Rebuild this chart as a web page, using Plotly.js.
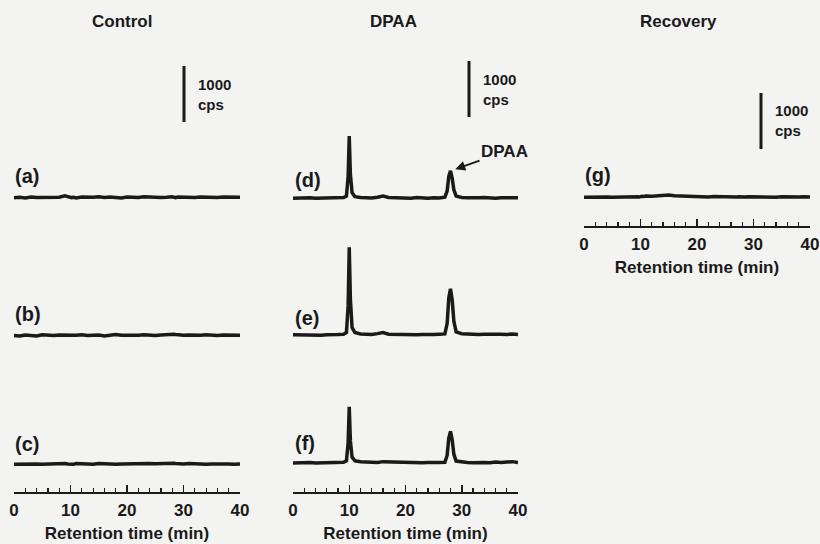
<!DOCTYPE html>
<html><head><meta charset="utf-8">
<script src="https://cdn.plot.ly/plotly-3.0.1.min.js"></script>
<style>html,body{margin:0;padding:0;background:#f3f3f1}</style>
</head><body><div id="chart" style="width:820px;height:544px"></div>
<script>
// ---- data (retention time in min, signal in cps) ----
const times = [0,1,2,3,4,5,6,7,8,9,9.5,9.8,10,10.2,10.5,11,12,13,14,15,16,17,18,19,20,21,22,23,24,25,26,27,27.4,27.7,28,28.3,28.6,29,30,31,32,33,34,35,36,37,38,39,40];
const controlA = [20,30,20,35,25,30,20,35,30,55,40,35,30,25,30,20,35,25,30,40,25,35,30,20,35,30,25,40,30,35,25,30,35,30,40,30,25,35,30,40,25,35,30,40,25,35,30,40,30];
const controlB = [25,20,35,30,20,40,30,25,35,30,30,25,35,30,25,30,40,25,30,35,20,30,45,30,25,35,30,40,30,25,35,40,45,55,60,50,45,40,30,35,25,30,40,30,25,35,30,40,30];
const controlC = [30,35,30,40,35,30,35,40,30,45,35,30,40,35,30,45,35,40,30,45,35,40,30,35,40,30,35,40,45,40,45,50,55,60,55,50,45,40,35,45,35,40,30,35,40,45,35,30,35];
const dpaaD = [30,35,25,40,30,35,30,40,35,45,70,420,1140,460,130,60,45,40,35,50,70,45,40,35,40,30,45,35,30,40,35,50,160,420,520,390,180,70,45,40,35,40,45,35,30,40,35,45,40];
const dpaaE = [40,35,30,40,35,30,40,35,45,50,80,560,1600,680,170,80,55,50,45,60,80,50,45,40,45,35,40,45,40,45,50,55,240,700,860,660,280,90,60,50,55,45,50,55,45,50,45,55,45];
const dpaaF = [35,40,30,45,35,40,45,35,40,50,75,400,1040,430,140,75,60,50,55,45,60,55,50,45,40,50,45,40,45,40,45,50,170,480,600,450,190,70,50,45,40,50,45,40,55,45,50,60,45];
const recoveryG = [30,35,30,40,35,30,35,40,35,45,40,35,45,50,45,55,50,60,65,70,60,55,45,40,35,40,35,45,40,35,40,35,40,35,45,40,35,40,35,30,40,35,30,40,35,30,35,40,35];
const panelLabels = ['(a)','(b)','(c)','(d)','(e)','(f)','(g)'];
const columnTitles = ['Control','DPAA','Recovery'];
const scaleBarCps = 1000;
const scaleBarText = ['1000','cps'];
const tickValues = [0,10,20,30,40];
const peakLabel = 'DPAA';
const peakTime = 28;
const axisTitle = 'Retention time (min)';

// ---- layout geometry (pixels) ----
const W = 820, H = 544, K = 0.056; // px per cps
const px = x => x / W, py = y => 1 - y / H;
const ink = '#1a1a1a';
const FONT = 'Liberation Sans, Arial, Helvetica, sans-serif';
const colX = [[14,240],[293,518],[584,810]];
const axisY = [492,492,226];
const series = [controlA, controlB, controlC, dpaaD, dpaaE, dpaaF, recoveryG];
const panelCol = [0,0,0,1,1,1,2];
const panelBase = [199,337,466,200,337,465,199];
const panelLabelPos = [[13,176],[13,314],[13,444],[293,180],[293,318],[293,443],[583,175]];
const yLo = -300, yHi = 2600;

const traces = [], layout = {
  width: W, height: H, margin: {l:0,r:0,t:0,b:0},
  paper_bgcolor: '#f3f3f1', plot_bgcolor: 'rgba(0,0,0,0)',
  showlegend: false, font: {family: FONT, color: ink},
  annotations: [], shapes: []
};

for (let c = 0; c < 3; c++) {
  const key = 'xaxis' + (c === 0 ? '' : c + 1);
  layout[key] = {
    domain: [px(colX[c][0]), px(colX[c][1])], range: [0, 40],
    anchor: 'free', position: py(axisY[c]),
    showline: true, linecolor: ink, linewidth: 1.5,
    showgrid: false, zeroline: false,
    tickmode: 'array', tickvals: tickValues, ticktext: tickValues.map(String),
    ticks: 'inside', ticklen: 7, tickwidth: 1.5, tickcolor: ink,
    minor: {dtick: 2, tick0: 0, ticks: 'inside', ticklen: 4, tickwidth: 1.2, tickcolor: ink, showgrid: false},
    tickfont: {family: FONT, size: 17, weight: 'bold', color: ink},
    ticklabelstandoff: 2,
    title: {text: axisTitle, font: {family: FONT, size: 17, weight: 'bold', color: ink}, standoff: 8},
    fixedrange: true
  };
}

series.forEach((vals, i) => {
  const c = panelCol[i];
  const xk = 'x' + (c === 0 ? '' : c + 1);
  const yk = 'y' + (i === 0 ? '' : i + 1);
  const yKey = 'yaxis' + (i === 0 ? '' : i + 1);
  const base = panelBase[i];
  layout[yKey] = {
    domain: [py(base - yLo * K), py(base - yHi * K)],
    range: [yLo, yHi], visible: false, fixedrange: true, anchor: xk
  };
  traces.push({
    x: times, y: vals, xaxis: xk, yaxis: yk, type: 'scatter', mode: 'lines',
    line: {color: ink, width: 3.5}, hoverinfo: 'skip'
  });
  layout.annotations.push({
    xref: 'paper', yref: 'paper', x: px(panelLabelPos[i][0]), y: py(panelLabelPos[i][1]),
    xanchor: 'left', yanchor: 'middle', showarrow: false, text: panelLabels[i],
    font: {family: FONT, size: 20, weight: 'bold', color: ink}
  });
});

// column titles
const titleX = [122, 393, 678];
columnTitles.forEach((t, c) => layout.annotations.push({
  xref: 'paper', yref: 'paper', x: px(titleX[c]), y: py(22), xanchor: 'center', yanchor: 'middle',
  showarrow: false, text: t, font: {family: FONT, size: 17, weight: 'bold', color: ink}
}));

// scale bars (drawn in cps on panels a, d, g)
const barPanels = [0, 3, 6];
const barX = [184, 469, 761];
const barBottomPx = [122, 117, 149];
barPanels.forEach((p, j) => {
  const yref = 'y' + (p === 0 ? '' : p + 1);
  const y0 = (panelBase[p] - barBottomPx[j]) / K;
  layout.shapes.push({
    type: 'line', xref: 'paper', yref: yref, x0: px(barX[j]), x1: px(barX[j]),
    y0: y0, y1: y0 + scaleBarCps, line: {color: ink, width: 3}
  });
  layout.annotations.push({
    xref: 'paper', yref: yref, x: px(barX[j] + 12), y: y0 + scaleBarCps / 2,
    xanchor: 'left', yanchor: 'middle', align: 'left', showarrow: false,
    text: scaleBarText.join('<br>'), font: {family: FONT, size: 15, weight: 'bold', color: ink}
  });
});

// DPAA peak arrow on panel (d)
const dIdx = times.indexOf(peakTime);
layout.annotations.push({
  xref: 'x2', yref: 'y4', x: peakTime, y: dpaaD[dIdx], ax: 54, ay: -19,
  text: peakLabel, showarrow: true, arrowhead: 2, arrowsize: 1, arrowwidth: 2,
  arrowcolor: ink, standoff: 5, xanchor: 'center', yanchor: 'middle',
  font: {family: FONT, size: 17, weight: 'bold', color: ink}
});

Plotly.newPlot('chart', traces, layout, {staticPlot: true, displayModeBar: false});
</script></body></html>
